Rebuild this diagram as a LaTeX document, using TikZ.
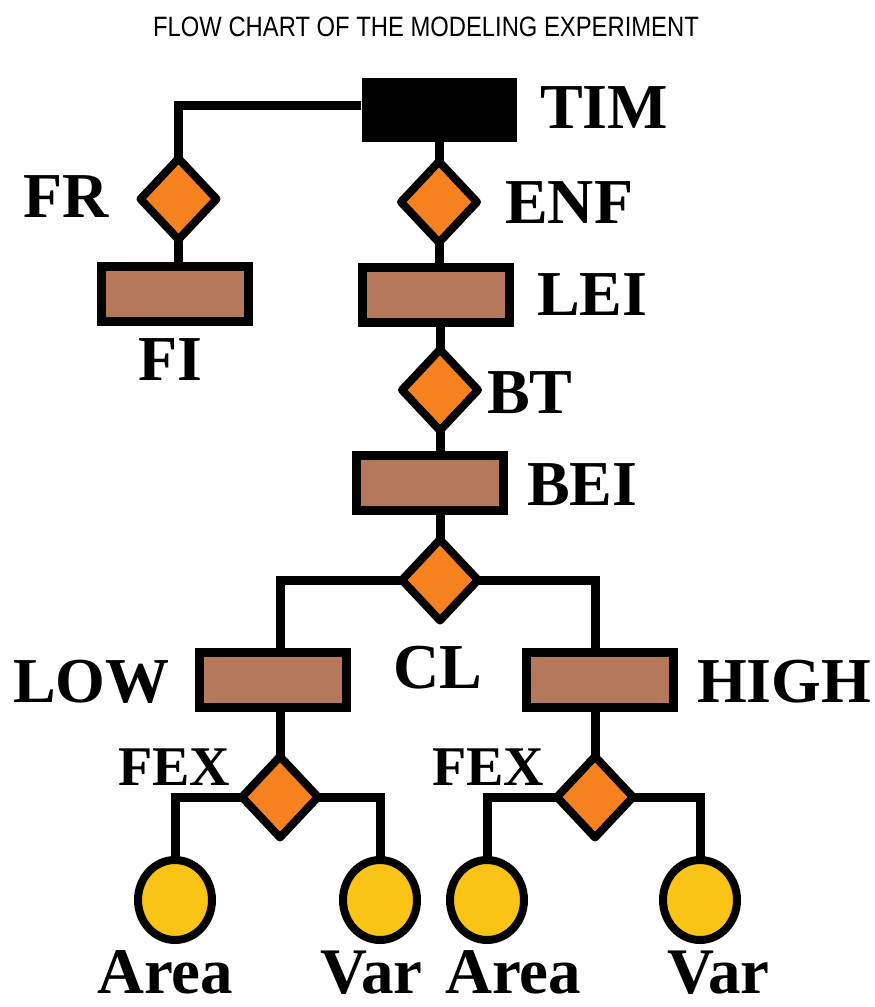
\documentclass[tikz,border=0pt]{standalone}
\usepackage{fontspec}
\setmainfont{Liberation Serif}
\newfontfamily\titlefont{Liberation Sans}
\usetikzlibrary{shapes.geometric,positioning}
\definecolor{deciorange}{HTML}{F5821F}
\definecolor{boxbrown}{HTML}{B5785A}
\definecolor{leafyellow}{HTML}{F9C416}

\begin{document}
\begin{tikzpicture}[x=1pt,y=-1pt,
  link/.style={draw, line width=9pt},
  decision/.style={diamond, draw, line width=8pt, line join=round, fill=deciorange,
    minimum width=76pt, minimum height=81pt, inner sep=0pt, outer sep=0pt},
  levelbox/.style={rectangle, draw, line width=9pt, fill=boxbrown,
    minimum width=147pt, minimum height=55pt, inner sep=0pt},
  leaf/.style={ellipse, draw, line width=8pt, fill=leafyellow,
    minimum width=74pt, minimum height=80pt, inner sep=0pt, outer sep=0pt},
  lbl/.style={anchor=base west, inner sep=0pt, font=\bfseries\fontsize{64}{64}\selectfont},
  smalllbl/.style={lbl, font=\bfseries\fontsize{56}{56}\selectfont},
  leaflbl/.style={lbl, text depth=0pt, font=\bfseries\fontsize{65}{65}\selectfont}]
\useasboundingbox (0,0) rectangle (875,1007);
% Title
\node[anchor=base, inner sep=0pt, xscale=0.85, font=\titlefont\fontsize{28}{28}\selectfont]
  (title) at (426,36) {FLOW CHART OF THE MODELING EXPERIMENT};
% Top box
\node[rectangle, fill=black, minimum width=155pt, minimum height=64pt, inner sep=0pt] (tim) at (439,110) {};
% Left branch
\node[decision] (fr) at (178.5,199) {};
\node[levelbox] (fi) at (175,293.5) {};
% Spine
\node[decision] (enf) at (439,202) {};
\node[levelbox] (lei) at (435.5,295) {};
\node[decision] (bt) at (440,390) {};
\node[levelbox] (bei) at (430,482.5) {};
\node[decision] (cl) at (440,580) {};
% Levels
\node[levelbox] (low) at (272.5,680) {};
\node[levelbox] (high) at (599.5,679.5) {};
\node[decision] (fexl) at (280,797) {};
\node[decision] (fexr) at (595,797) {};
% Leaves
\node[leaf] (areal) at (175,900) {};
\node[leaf] (varl) at (380,900) {};
\node[leaf] (arear) at (487,900) {};
\node[leaf] (varr) at (700,900) {};
% Connectors
\draw[link] ([yshift=5pt]tim.west) -| (fr.north);
\draw[link] (fr.south) -- (fr.south |- fi.north);
\draw[link] (tim.south) -- (enf.north);
\draw[link] (enf.south) -- (enf.south |- lei.north);
\draw[link] (lei.south -| bt.north) -- (bt.north);
\draw[link] (bt.south) -- (bt.south |- bei.north);
\draw[link] (bei.south -| cl.north) -- (cl.north);
\draw[link] (cl.west) -| (low.north -| fexl.north);
\draw[link] (cl.east) -| (high.north -| fexr.north);
\draw[link] (low.south -| fexl.north) -- (fexl.north);
\draw[link] (high.south -| fexr.north) -- (fexr.north);
\draw[link] (fexl.west) -| (areal.north);
\draw[link] (fexl.east) -| (varl.north);
\draw[link] (fexr.west) -| (arear.north);
\draw[link] (fexr.east) -| (varr.north);
% Labels
\node[lbl] (timlbl) at (540,128) {TIM};
\node[lbl] (frlbl) at (23,217) {FR};
\node[lbl] (enflbl) at (505,223) {ENF};
\node[lbl] (filbl) at (138,380) {FI};
\node[lbl] (leilbl) at (537,315) {LEI};
\node[lbl] (btlbl) at (487,413) {BT};
\node[lbl] (beilbl) at (527,505) {BEI};
\node[lbl] (cllbl) at (393,688) {CL};
\node[lbl] (lowlbl) at (13,702) {LOW};
\node[lbl] (highlbl) at (697,702) {HIGH};
\node[smalllbl] (fexllbl) at (118,785) {FEX};
\node[smalllbl] (fexrlbl) at (432,785) {FEX};
\node[leaflbl] (areallbl) at (97,993) {Area};
\node[leaflbl] (varllbl) at (320,993) {Var};
\node[leaflbl] (arearlbl) at (445,993) {Area};
\node[leaflbl] (varrlbl) at (667,993) {Var};
\end{tikzpicture}
\end{document}
